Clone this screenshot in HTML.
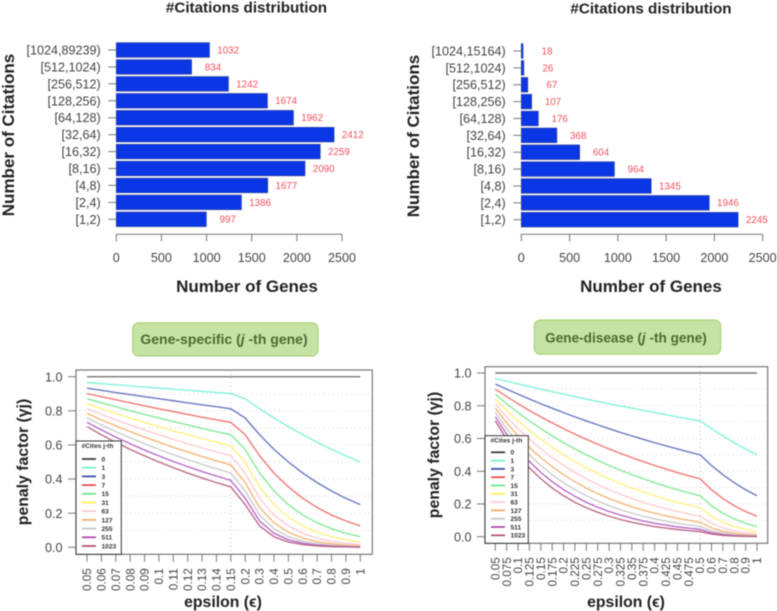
<!DOCTYPE html>
<html lang="en">
<head>
<meta charset="utf-8">
<title>Citations distribution and penalty factor charts</title>
<style>
html,body{margin:0;padding:0;background:#fff;width:777px;height:611px;overflow:hidden}
svg{display:block;filter:blur(.4px);font-family:"Liberation Sans",sans-serif}
.title{font-size:15.2px;font-weight:700;fill:#222;text-anchor:middle}
.axis-title{font-size:17px;font-weight:700;fill:#222;text-anchor:middle}
.axis-title-small{font-size:15.8px;font-weight:700;fill:#222;text-anchor:middle}
.badge-text{font-size:14px;font-weight:700;fill:#4b6b33;text-anchor:middle}
</style>
</head>
<body>
<svg id="chart" width="777" height="611" viewBox="0 0 777 611" xmlns="http://www.w3.org/2000/svg">
  <rect width="777" height="611" fill="#fff"/>

  <text class="title" x="246.5" y="12.5">#Citations distribution</text>
  <text class="title" x="651" y="13.5">#Citations distribution</text>

  <text class="axis-title" transform="translate(14,135) rotate(-90)">Number of Citations</text>
  <text class="axis-title" x="247" y="292">Number of Genes</text>
  <text class="axis-title" transform="translate(419,136) rotate(-90)">Number of Citations</text>
  <text class="axis-title" x="651" y="292">Number of Genes</text>

  <rect x="132.7" y="322.7" width="185.3" height="33.3" rx="6" fill="#c6e2a4" stroke="#a2d06c" stroke-width="1"/>
  <text class="badge-text" x="224" y="344">Gene-specific (<tspan font-style="italic">j</tspan> -th gene)</text>
  <rect x="534.3" y="320" width="186.4" height="34.3" rx="6" fill="#c6e2a4" stroke="#a2d06c" stroke-width="1"/>
  <text class="badge-text" style="font-size:13.6px" x="626" y="342.5">Gene-disease (<tspan font-style="italic">j</tspan> -th gene)</text>

  <text class="axis-title-small" transform="translate(28,462) rotate(-90)">penaly factor (γj)</text>
  <text class="axis-title-small" x="223" y="607">epsilon (ϵ)</text>
  <text class="axis-title-small" transform="translate(439,455) rotate(-90)">penaly factor (γj)</text>
  <text class="axis-title-small" x="626" y="607">epsilon (ϵ)</text>

  <g id="layer"></g>
</svg>

<script>
// ---- bar chart data ----
const binsLeft = ['[1,2)','[2,4)','[4,8)','[8,16)','[16,32)','[32,64)','[64,128)','[128,256)','[256,512)','[512,1024)','[1024,89239)'];
const genesLeft = [997,1386,1677,2090,2259,2412,1962,1674,1242,834,1032];
const binsRight = ['[1,2)','[2,4)','[4,8)','[8,16)','[16,32)','[32,64)','[64,128)','[128,256)','[256,512)','[512,1024)','[1024,15164)'];
const genesRight = [2245,1946,1345,964,604,368,176,107,67,26,18];
const geneTicks = [0,500,1000,1500,2000,2500];

// ---- line chart data ----
const citeLabels = ['0','1','3','7','15','31','63','127','255','511','1023'];
const citeColors = ['#777777','#84f2dc','#6a78c4','#f07878','#86ea98','#fff080','#ffccd4','#f6b678','#cccccc','#b86ac8','#bc6a8a'];
const legendColors = ['#333333','#66f5c0','#3345a8','#ee4444','#66e588','#fff050','#ffc4cc','#f4aa60','#c4c4c4','#a844a8','#b04a70'];
const valueTicks = [0,0.2,0.4,0.6,0.8,1];
const gridValues = [0.1,0.2,0.3,0.4,0.5,0.6,0.7,0.8,0.9];

const epsilonSpecific = ['0.05','0.06','0.07','0.08','0.09','0.1','0.11','0.12','0.13','0.14','0.15','0.2','0.3','0.4','0.5','0.6','0.7','0.8','0.9','1'];
// one row per epsilon; columns follow citeLabels
const penaltySpecific = [
 [1,.966,.933,.901,.871,.841,.812,.785,.758,.732,.707],
 [1,.959,.920,.883,.847,.812,.779,.747,.717,.688,.660],
 [1,.953,.907,.865,.824,.785,.747,.712,.678,.646,.616],
 [1,.946,.895,.847,.801,.758,.717,.678,.642,.607,.574],
 [1,.939,.883,.829,.779,.732,.688,.646,.607,.570,.536],
 [1,.933,.871,.812,.758,.707,.660,.616,.574,.536,.500],
 [1,.927,.859,.796,.737,.683,.633,.586,.543,.503,.467],
 [1,.920,.847,.779,.717,.660,.607,.559,.514,.473,.435],
 [1,.914,.835,.763,.697,.637,.582,.532,.486,.444,.406],
 [1,.908,.824,.747,.678,.616,.559,.507,.460,.418,.379],
 [1,.901,.812,.732,.660,.595,.536,.483,.435,.392,.354],
 [1,.871,.758,.660,.574,.500,.435,.379,.330,.287,.250],
 [1,.812,.660,.536,.435,.354,.287,.233,.189,.154,.125],
 [1,.758,.574,.435,.330,.250,.189,.144,.109,.082,.062],
 [1,.707,.500,.354,.250,.177,.125,.088,.062,.044,.031],
 [1,.660,.435,.287,.189,.125,.082,.054,.036,.024,.016],
 [1,.616,.379,.233,.144,.088,.054,.033,.021,.013,.008],
 [1,.574,.330,.189,.109,.062,.036,.021,.012,.007,.004],
 [1,.536,.287,.154,.082,.044,.024,.013,.007,.004,.002],
 [1,.500,.250,.125,.062,.031,.016,.008,.004,.002,.001]
];

const epsilonDisease = ['0.05','0.075','0.1','0.125','0.15','0.175','0.2','0.225','0.25','0.275','0.3','0.325','0.35','0.375','0.4','0.425','0.45','0.475','0.5','0.6','0.7','0.8','0.9','1'];
const penaltyDisease = [
 [1,.966,.933,.901,.871,.841,.812,.785,.758,.732,.707],
 [1,.949,.901,.856,.812,.771,.732,.695,.660,.626,.595],
 [1,.933,.871,.812,.758,.707,.660,.616,.574,.536,.500],
 [1,.917,.841,.771,.707,.648,.595,.545,.500,.459,.420],
 [1,.901,.812,.732,.660,.595,.536,.483,.435,.392,.354],
 [1,.886,.785,.695,.616,.545,.483,.428,.379,.336,.297],
 [1,.871,.758,.660,.574,.500,.435,.379,.330,.287,.250],
 [1,.856,.732,.626,.536,.459,.392,.336,.287,.246,.210],
 [1,.841,.707,.595,.500,.420,.354,.297,.250,.210,.177],
 [1,.826,.683,.565,.467,.386,.319,.263,.218,.180,.149],
 [1,.812,.660,.536,.435,.354,.287,.233,.189,.154,.125],
 [1,.798,.637,.509,.406,.324,.259,.207,.165,.132,.105],
 [1,.785,.616,.483,.379,.297,.233,.183,.144,.113,.088],
 [1,.771,.595,.459,.354,.273,.210,.162,.125,.096,.074],
 [1,.758,.574,.435,.330,.250,.189,.144,.109,.082,.062],
 [1,.745,.555,.413,.308,.229,.171,.127,.095,.071,.053],
 [1,.732,.536,.392,.287,.210,.154,.113,.082,.060,.044],
 [1,.719,.518,.372,.268,.193,.139,.100,.072,.052,.037],
 [1,.707,.500,.354,.250,.177,.125,.088,.062,.044,.031],
 [1,.660,.435,.287,.189,.125,.082,.054,.036,.024,.016],
 [1,.616,.379,.233,.144,.088,.054,.033,.021,.013,.008],
 [1,.574,.330,.189,.109,.062,.036,.021,.012,.007,.004],
 [1,.536,.287,.154,.082,.044,.024,.013,.007,.004,.002],
 [1,.500,.250,.125,.062,.031,.016,.008,.004,.002,.001]
];

const NS = 'http://www.w3.org/2000/svg';
const layer = document.getElementById('layer');

function node(tag, props, parent) {
  const el = document.createElementNS(NS, tag);
  for (const k in props) el.setAttribute(k, props[k]);
  (parent || layer).appendChild(el);
  return el;
}

function drawBarChart(prefix, bins, genes, g) {
  const xAt = v => g.x0 + v / 2500 * (g.x1 - g.x0);
  const yAt = i => g.yBottom - i * (g.yBottom - g.yTop) / (bins.length - 1);

  genes.forEach((value, i) => {
    const bar = node('rect', {x: xAt(0), y: yAt(i) - 7.3, width: xAt(value) - xAt(0), height: 14.6, fill: '#0b36e6', stroke: '#33479a', 'stroke-width': 0.7});
    
    

    const tick = node('line', {x1: g.x0 - 8, x2: g.x0, y1: yAt(i), y2: yAt(i), stroke: '#777', 'stroke-width': 1});
    
    

    const label = node('text', {x: g.x0 - 15.6, y: yAt(i) + 4.5, 'text-anchor': 'end', 'font-size': 12.6, fill: '#444'});
    label.textContent = bins[i];
    
    

    const text = String(value);
    const valueLabel = node('text', {x: xAt(value) + 29.5 - 2.7 * text.length, y: yAt(i) + 3.4, 'text-anchor': 'middle', 'font-size': 9.8, fill: '#f2505c'});
    valueLabel.textContent = text;
    
    
  });

  const axis = node('line', {x1: xAt(0), x2: xAt(2500), y1: g.axisY, y2: g.axisY, stroke: '#777', 'stroke-width': 1});
  
  

  geneTicks.forEach(t => {
    const tick = node('line', {x1: xAt(t), x2: xAt(t), y1: g.axisY, y2: g.axisY + 7, stroke: '#777', 'stroke-width': 1});
    
    

    const label = node('text', {x: xAt(t), y: g.axisY + 27.5, 'text-anchor': 'middle', 'font-size': 12.6, fill: '#444'});
    label.textContent = t;
    
    
  });
}

function drawLineChart(prefix, categories, rows, g) {
  const xAt = i => g.xFirst + i * (g.xLast - g.xFirst) / (categories.length - 1);
  const yAt = v => g.y0 - v * (g.y0 - g.y1);

  gridValues.forEach(v => {
    const grid = node('line', {x1: g.left, x2: g.right, y1: yAt(v), y2: yAt(v), stroke: '#cfcfcf', 'stroke-width': 0.9, 'stroke-dasharray': '1 3.5'});
    
    
  });

  const breakX = xAt(categories.indexOf(g.breakAt));
  const breakLine = node('line', {x1: breakX, x2: breakX, y1: g.top, y2: g.bottom, stroke: '#bdbdbd', 'stroke-width': 0.9, 'stroke-dasharray': '1 3'});
  
  

  citeLabels.forEach((cites, s) => {
    const pts = rows.map((row, i) => xAt(i).toFixed(2) + ',' + yAt(row[s]).toFixed(2)).join(' ');
    const series = node('polyline', {points: pts, fill: 'none', stroke: citeColors[s], 'stroke-width': 1.4});
    
    
  });

  const frame = node('rect', {x: g.left, y: g.top, width: g.right - g.left, height: g.bottom - g.top, fill: 'none', stroke: '#777', 'stroke-width': 1.2});
  
  

  valueTicks.forEach(v => {
    const tick = node('line', {x1: g.left - 8, x2: g.left, y1: yAt(v), y2: yAt(v), stroke: '#777', 'stroke-width': 1});
    
    

    const label = node('text', {x: g.left - 13.5, y: yAt(v) + 4.6, 'text-anchor': 'end', 'font-size': 12.6, fill: '#444'});
    label.textContent = v.toFixed(1);
    
    
  });

  categories.forEach((c, i) => {
    const tick = node('line', {x1: xAt(i), x2: xAt(i), y1: g.bottom, y2: g.bottom + 7.5, stroke: '#777', 'stroke-width': 1});
    
    

    const label = node('text', {transform: 'translate(' + (xAt(i) + 4.1) + ',' + (g.bottom + 14) + ') rotate(-90)', 'text-anchor': 'end', 'font-size': 11.7, fill: '#444'});
    label.textContent = c;
    
    
  });

  const box = node('rect', {x: g.left, y: g.legendTop, width: g.legendRight - g.left, height: g.bottom - g.legendTop, fill: '#fff', stroke: '#333', 'stroke-width': 1});
  
  

  const legendTitle = node('text', {x: g.left + 5.5, y: g.legendTop + 7, 'font-size': 6.6, 'font-weight': 700, fill: '#333'});
  legendTitle.textContent = '#Cites j-th';
  
  

  citeLabels.forEach((cites, s) => {
    const y = g.legendFirst + s * g.legendStep;
    const swatch = node('line', {x1: g.left + 6, x2: g.left + 20, y1: y, y2: y, stroke: legendColors[s], 'stroke-width': 1.7});
    
    

    const label = node('text', {x: g.left + 25.5, y: y + 2.4, 'font-size': 6.6, 'font-weight': 700, fill: '#333'});
    label.textContent = cites;
    
    
  });
}

drawBarChart('left-bar', binsLeft, genesLeft, {x0: 116.3, x1: 342, yTop: 50, yBottom: 219.3, axisY: 234.3});
drawBarChart('right-bar', binsRight, genesRight, {x0: 521.3, x1: 762.7, yTop: 51, yBottom: 219.7, axisY: 234.3});

drawLineChart('gene-specific', epsilonSpecific, penaltySpecific, {
  left: 76, right: 372.3, top: 370, bottom: 554.3,
  xFirst: 87, xLast: 360.3, y0: 547.3, y1: 376.7, breakAt: '0.15',
  legendTop: 441, legendRight: 121.3, legendFirst: 459, legendStep: 8.7
});
drawLineChart('gene-disease', epsilonDisease, penaltyDisease, {
  left: 485, right: 767.7, top: 366.7, bottom: 543.3,
  xFirst: 495.3, xLast: 757, y0: 536.7, y1: 373, breakAt: '0.5',
  legendTop: 435.7, legendRight: 528.3, legendFirst: 452.3, legendStep: 8.3
});
</script>
</body>
</html>
